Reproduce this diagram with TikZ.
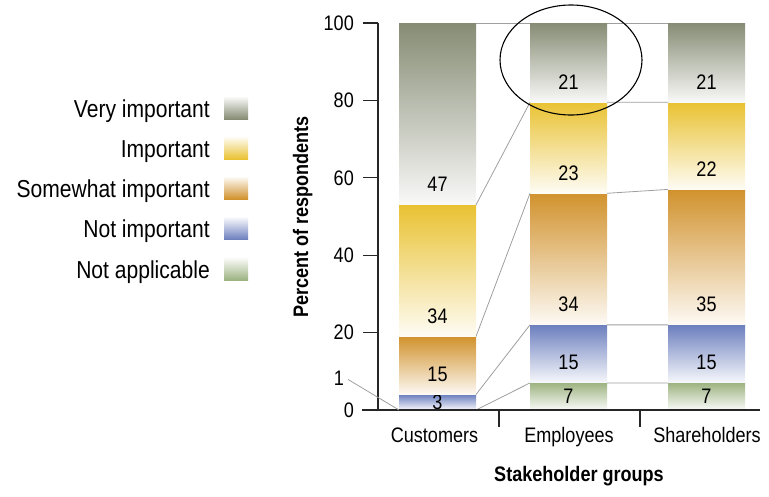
\documentclass[tikz,border=0pt]{standalone}
\usepackage{fontspec}
\setmainfont{Liberation Sans}[FakeStretch=0.86]
\usepackage{xcolor}
\usetikzlibrary{calc}
\definecolor{veryimp}{HTML}{868C74}
\definecolor{imp}{HTML}{E9C232}
\definecolor{somewhat}{HTML}{D1922D}
\definecolor{notimp}{HTML}{6C7FBE}
\definecolor{notapp}{HTML}{9DB381}
\begin{document}
\begin{tikzpicture}[x=1pt,y=-1pt,
        numtext/.style={inner sep=0pt,font=\fontsize{21}{25}\selectfont},
        ticklabel/.style={numtext,anchor=east},
        legtext/.style={inner sep=0pt,anchor=base east,font=\fontsize{24.5}{29}\selectfont},
        titletext/.style={inner sep=0pt,anchor=base,font=\fontsize{21}{25}\selectfont\bfseries},
        axisline/.style={line width=1.3pt,draw=black!85},
        link/.style={draw=gray!75,line width=0.8pt}]
        \useasboundingbox (0,0) rectangle (769,496);
        % legend
        \foreach \yc/\col/\txt/\nm in {108/veryimp/Very important/legvi,148/imp/Important/legim,
                188/somewhat/Somewhat important/legsw,228.5/notimp/Not important/legni,269/notapp/Not applicable/legna}{
            \shade[top color=\col!5,bottom color=\col] (224,\yc-11) rectangle (248,\yc+11);
            \node[legtext] (\nm) at (210,\yc+9) {\txt};
        }
        \begin{scope}[shift={(0,410)},y=3.87pt]
            % stacked bars
            \foreach \bx/\lo/\hi/\col/\val/\nm in {
                    399/0/4/notimp/3/cuB,399/4/19/somewhat/15/cuC,399/19/53/imp/34/cuD,399/53/100/veryimp/47/cuE,
                    530/0/7/notapp/7/emA,530/7/22/notimp/15/emB,530/22/56/somewhat/34/emC,530/56/79.5/imp/23/emD,530/79.5/100/veryimp/21/emE,
                    668/0/7/notapp/7/shA,668/7/22/notimp/15/shB,668/22/57/somewhat/35/shC,668/57/79.5/imp/22/shD,668/79.5/100/veryimp/21/shE}{
                \shade[top color=\col,bottom color=\col!5] (\bx,\lo) rectangle (\bx+77,\hi);
                \coordinate (\nm-l) at (\bx,\hi);
                \coordinate (\nm-r) at (\bx+77,\hi);
                \pgfmathsetmacro\ly{min(\lo+5.2,(\lo+\hi)/2)}
                \node[numtext] (\nm-v) at (\bx+38.5,\ly) {\val};
            }
            \coordinate (cuA-r) at (476,0);
            \coordinate (cu0) at (399,0);
            % links between bars
            \foreach \s in {A,B,C,D,E}{
                \draw[link] (cu\s-r) -- (em\s-l) (em\s-r) -- (sh\s-l);
            }
            % axes
            \draw[axisline] (378,100) -- (378,0);
            \foreach \t in {20,40,60,80,100}{
                \draw[axisline] (363,\t) -- (378,\t);
                \node[ticklabel] (tick\t) at (354,\t) {\t};
            }
            \draw[axisline] (362,0) -- (760,0);
            \node[ticklabel] (tick0) at (354,0) {0};
            \node[ticklabel] (tick1) at (344,8.3) {1};
            \draw[link] ($(tick1.east)+(4,-0.4)$) -- (cu0);
            \draw[axisline] (499,0) -- (499,-4.5);
            \draw[axisline] (640,0) -- (640,-4.5);
        \end{scope}
        \node[numtext,anchor=base] (cust) at (434.5,442) {Customers};
        \node[numtext,anchor=base] (empl) at (569,442) {Employees};
        \node[numtext,anchor=base] (shar) at (707,442) {Shareholders};
        \node[titletext] (xtitle) at (579,481) {Stakeholder groups};
        \node[titletext,rotate=90] (ytitle) at (308,217) {Percent of respondents};
        \draw[line width=1.1pt] (571,60) ellipse [x radius=71,y radius=55];
\end{tikzpicture}
\end{document}
